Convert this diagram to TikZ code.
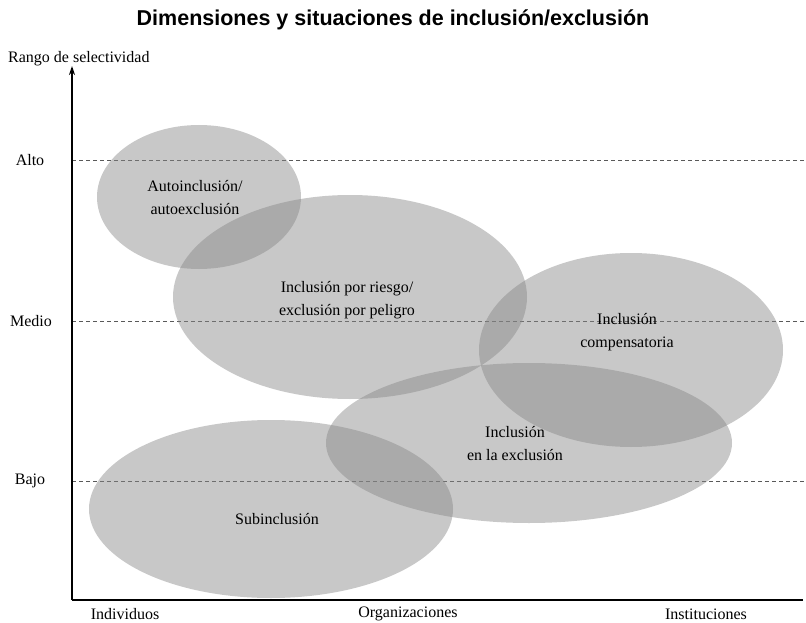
\documentclass[tikz,border=0pt]{standalone}
\usepackage{fontspec}
\setmainfont{Liberation Serif}
\newfontfamily\titlefont{Liberation Sans}
\usetikzlibrary{arrows.meta}
\tikzset{
  blob/.style={fill=black!47, fill opacity=0.46, draw=none},
  lbl/.style={font=\fontsize{16}{23}\selectfont, align=center, text opacity=1, inner sep=0pt},
  axis/.style={line width=2pt, black},
  level/.style={dashed, dash pattern=on 4pt off 3pt, black!65, line width=0.8pt},
  tick/.style={font=\fontsize{16}{19}\selectfont, inner sep=0pt}
}
\begin{document}
\begin{tikzpicture}[x=1pt,y=-1pt]
\useasboundingbox (0,0) rectangle (806,623);
% title
\node[font=\titlefont\bfseries\fontsize{21.5}{25}\selectfont] (title) at (393,20) {Dimensiones y situaciones de inclusión/exclusión};
% level lines
\coordinate (a0) at (72,160); \coordinate (a1) at (806,160);
\coordinate (m0) at (72,321); \coordinate (m1) at (806,321);
\coordinate (b0) at (72,481); \coordinate (b1) at (806,481);
\draw[level] (a0) -- (a1);
\draw[level] (m0) -- (m1);
\draw[level] (b0) -- (b1);
% ellipses
\fill[blob] (199,197) ellipse [x radius=102, y radius=72];
\fill[blob] (350,297) ellipse [x radius=177, y radius=102];
\fill[blob] (631,350) ellipse [x radius=152, y radius=97];
\fill[blob] (529,443) ellipse [x radius=203, y radius=80];
\fill[blob] (271,509) ellipse [x radius=182, y radius=89];
% labels
\node[lbl] (e1) at (195,198) {Autoinclusión/\\autoexclusión};
\node[lbl] (e2) at (347,300) {Inclusión por riesgo/\\exclusión por peligro};
\node[lbl] (e3) at (627,332) {Inclusión\\compensatoria};
\node[lbl] (e4) at (515,444) {Inclusión\\en la exclusión};
\node[lbl] (e5) at (277,519) {Subinclusión};
% axes
\coordinate (o) at (72,600);
\coordinate (top) at (72,66);
\coordinate (right) at (803,600);
\draw[axis, -{Stealth[length=9pt,width=6pt]}] (o) -- (top);
\draw[axis] (o) -- (right);
% axis labels
\node[tick, anchor=west] (ylab) at (8,59) {Rango de selectividad};
\node[tick] (alto) at (30,160) {Alto};
\node[tick] (medio) at (31,321) {Medio};
\node[tick] (bajo) at (30,481) {Bajo};
\node[tick] (ind) at (125,614) {Individuos};
\node[tick] (org) at (408,614) {Organizaciones};
\node[tick] (ins) at (706,614) {Instituciones};
\end{tikzpicture}
\end{document}
